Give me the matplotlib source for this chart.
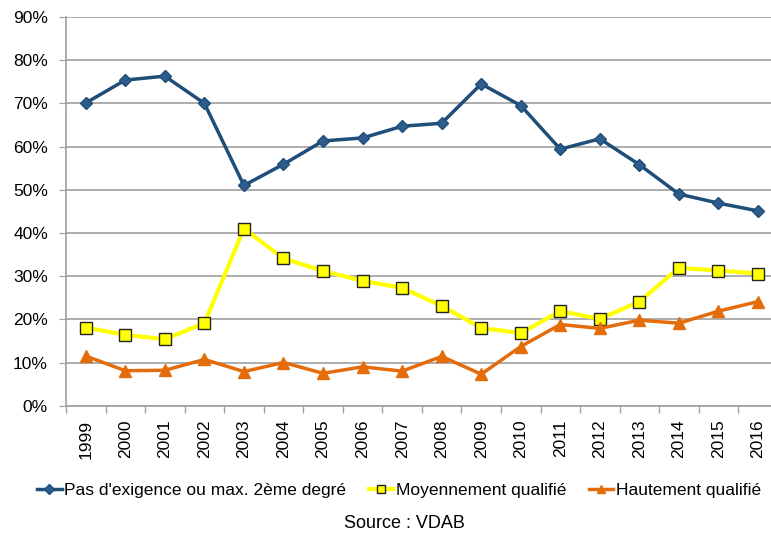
import numpy as np
import matplotlib
matplotlib.use("Agg")
import matplotlib.pyplot as plt
from matplotlib.ticker import FixedLocator, PercentFormatter

years = [str(y) for y in range(1999, 2017)]
pas_exigence = [70.1, 75.4, 76.3, 70.0, 51.0, 55.9, 61.3, 62.0, 64.7, 65.4,
                74.5, 69.5, 59.4, 61.8, 55.8, 49.0, 46.9, 45.1]
moyennement = [18.1, 16.4, 15.4, 19.1, 41.0, 34.1, 31.2, 28.9, 27.3, 23.1,
               18.0, 16.8, 21.9, 20.1, 24.1, 31.9, 31.3, 30.6]
hautement = [11.5, 8.1, 8.2, 10.7, 7.9, 10.0, 7.5, 9.0, 8.0, 11.4,
             7.3, 13.7, 18.8, 17.9, 19.8, 19.1, 21.9, 24.1]

plt.rcParams['font.family'] = ['Liberation Sans', 'DejaVu Sans']

W, H = 771, 538
fig = plt.figure(figsize=(W / 100, H / 100), dpi=100)
ax = fig.add_axes([66 / W, (H - 405.7) / H, (777.8 - 66) / W, (405.7 - 17) / H])

x = np.arange(len(years))
ax.plot(x, pas_exigence, color="#1F4E79", lw=2.5, marker="D", ms=6,
        mfc="#2E5C8E", mec="#1F4E79", label="Pas d'exigence ou max. 2ème degré", clip_on=False)
ax.plot(x, moyennement, color="#FFFF00", lw=3, marker="s", ms=8,
        mfc="#FFFF00", mec="#222222", mew=1, label="Moyennement qualifié", clip_on=False)
ax.plot(x, hautement, color="#E46C0A", lw=2.5, marker="^", ms=8,
        mfc="#E46C0A", mec="#E46C0A", label="Hautement qualifié", clip_on=False)

ax.set_xlim(-0.5, len(years) - 0.5)
ax.set_ylim(0, 90)
ax.set_yticks(np.arange(0, 91, 10))
ax.yaxis.set_major_formatter(PercentFormatter(decimals=0))
ax.set_xticks(x)
ax.set_xticklabels(years, rotation=90, fontsize=12.5)
ax.xaxis.set_minor_locator(FixedLocator(np.arange(-0.5, len(years), 1)))
ax.tick_params(axis="x", which="major", length=0, pad=10)
ax.tick_params(axis="x", which="minor", length=5, color="#A0A0A0", width=1)
ax.tick_params(axis="y", length=5, color="#A0A0A0", labelsize=12.5, pad=8)

ax.grid(axis="y", color="#A0A0A0", lw=1.2)
ax.set_axisbelow(True)
for s in ["top", "right"]:
    ax.spines[s].set_visible(False)
for s in ["left", "bottom"]:
    ax.spines[s].set_color("#A0A0A0")
    ax.spines[s].set_linewidth(1.2)

handles, labels = ax.get_legend_handles_labels()
leg = fig.legend(handles, labels, loc="center", bbox_to_anchor=(399 / W, 1 - 490 / H), ncol=3,
                 frameon=False, fontsize=12.5, handlelength=1.4, handletextpad=0.15,
                 columnspacing=1.3, markerscale=0.8)
fig.text(404 / W, 1 - 523 / H, "Source : VDAB", ha="center", va="center", fontsize=13)

fig.savefig("out.png", dpi=100)
